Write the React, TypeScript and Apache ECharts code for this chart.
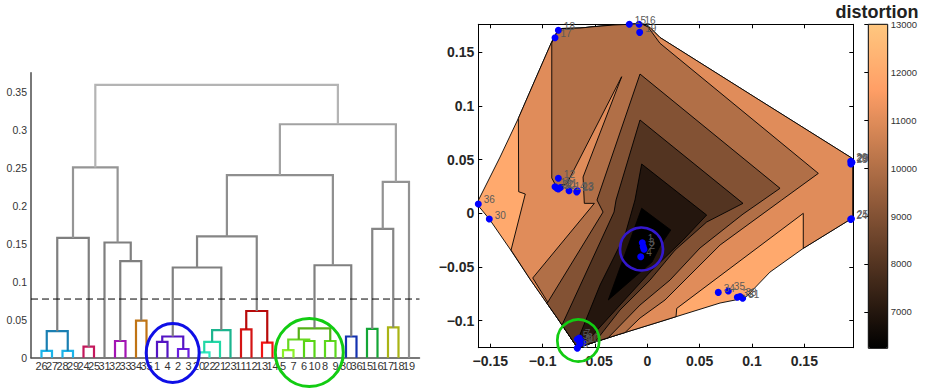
import React, { useEffect, useRef } from 'react';
import * as echarts from 'echarts';

const FONT = '"Liberation Sans", Arial, Helvetica, sans-serif';

// ---------- Dendrogram data ----------
const leafOrder = [26, 27, 28, 29, 24, 25, 31, 32, 33, 34, 35, 1, 4, 2, 3, 20, 22, 21, 23, 11, 12, 13, 14, 5, 7, 6, 10, 8, 9, 30, 36, 15, 16, 17, 18, 19];
const mergeLeft: (number | string)[] = [26, 28, 'c0', 24, 'c2', 32, 34, 'c5', 31, 'c4', 1, 2, 'c10', 20, 'c13', 'c14', 'c12', 11, 13, 'c17', 'c16', 5, 6, 'c21', 8, 'c23', 30, 'c25', 'c20', 15, 17, 'c29', 'c31', 'c28', 'c9'];
const mergeRight: (number | string)[] = [27, 29, 'c1', 25, 'c3', 33, 35, 'c6', 'c7', 'c8', 4, 3, 'c11', 22, 21, 23, 'c15', 12, 14, 'c18', 'c19', 7, 10, 'c22', 9, 'c24', 36, 'c26', 'c27', 16, 18, 'c30', 19, 'c32', 'c33'];
const mergeHeight = [0.009, 0.009, 0.035, 0.0145, 0.158, 0.022, 0.049, 0.1275, 0.152, 0.251, 0.021, 0.0115, 0.028, 0.007, 0.021, 0.0365, 0.119, 0.0374, 0.0198, 0.0616, 0.160, 0.010, 0.022, 0.024, 0.022, 0.0387, 0.028, 0.122, 0.241, 0.038, 0.040, 0.170, 0.232, 0.308, 0.36];
const mergeColor = ['#1bb4ea', '#1bb4ea', '#1a7fb2', '#c4185c', '#7f7f7f', '#a314b4', '#c07414', '#7f7f7f', '#7f7f7f', '#959595', '#5414c4', '#6a1ee0', '#5414c4', '#2ee8c0', '#22d8a6', '#1cb48e', '#808080', '#d41414', '#f21414', '#b80a0a', '#858585', '#8cf02a', '#58d414', '#68d820', '#5cd81c', '#54b016', '#1432b0', '#808080', '#8f8f8f', '#14a636', '#aab414', '#858585', '#929292', '#a2a2a2', '#b4b4b4'];
const dendroTicks = [0, 0.05, 0.1, 0.15, 0.2, 0.25, 0.3, 0.35];
const cutoff = 0.0774;

// ---------- Contour map data ----------
const contourFill = [12000, 11000, 10000, 9000, 8000, 7000, 6240];
const polyHull = [[-0.0913, 0.1598], [-0.0863, 0.1688], [-0.0815, 0.1721], [-0.0643, 0.1725], [-0.0519, 0.1737], [-0.0328, 0.1753], [-0.0175, 0.1760], [-0.0060, 0.1767], [0.0026, 0.1730], [0.0121, 0.1637], [0.1029, 0.1080], [0.1953, 0.0515], [0.1963, 0.0490], [0.1963, -0.0044], [0.1953, -0.0048], [0.1490, -0.0326], [0.1172, -0.0547], [0.0933, -0.0789], [0.0695, -0.0835], [0.0121, -0.1009], [-0.0261, -0.1124], [-0.0669, -0.1250], [-0.0834, -0.1012], [-0.1121, -0.0612], [-0.1312, -0.0332], [-0.1510, -0.0053], [-0.1613, 0.0068], [-0.1613, 0.0124], [-0.1407, 0.0524], [-0.1232, 0.0885], [-0.1073, 0.1241]];
const poly12000 = [[-0.1232, 0.0885], [-0.1073, 0.1241], [-0.0913, 0.1598], [-0.0863, 0.1688], [-0.0815, 0.1721], [-0.0643, 0.1725], [-0.0519, 0.1737], [-0.0328, 0.1753], [-0.0175, 0.1760], [-0.0060, 0.1767], [0.0026, 0.1730], [0.0121, 0.1637], [0.1029, 0.1080], [0.1953, 0.0515], [0.1963, 0.0490], [0.1963, -0.0044], [0.1953, -0.0048], [0.1490, -0.0326], [0.1490, 0.0000], [0.0281, -0.0885], [0.0274, -0.0962], [0.0121, -0.1009], [-0.0261, -0.1124], [-0.0669, -0.1250], [-0.0834, -0.1012], [-0.1121, -0.0612], [-0.1302, -0.0342], [-0.1166, 0.0180], [-0.1229, 0.0201]];
const poly11000 = [[-0.0913, 0.1586], [-0.0863, 0.1688], [-0.0815, 0.1721], [-0.0643, 0.1725], [-0.0519, 0.1737], [-0.0328, 0.1753], [-0.0175, 0.1760], [-0.0060, 0.1767], [0.0007, 0.1735], [0.0121, 0.1583], [0.1634, 0.0372], [0.1284, 0.0124], [0.0695, -0.0295], [0.0408, -0.0574], [0.0169, -0.0807], [-0.0070, -0.0975], [-0.0213, -0.1110], [-0.0261, -0.1124], [-0.0669, -0.1250], [-0.0834, -0.1012], [-0.1095, -0.0602], [-0.0506, 0.0093], [-0.0602, 0.0093], [-0.0614, 0.0338], [-0.0245, 0.1272], [-0.0770, 0.0273], [-0.0872, 0.0254], [-0.0913, 0.0329]];
const poly10000 = [[-0.0070, 0.1297], [0.1268, 0.0233], [0.0914, -0.0007], [0.0503, -0.0323], [0.0217, -0.0621], [-0.0070, -0.0854], [-0.0375, -0.1159], [-0.0669, -0.1250], [-0.0834, -0.1012], [-0.0958, -0.0839], [-0.0423, 0.0012], [-0.0481, 0.0124]];
const poly9000 = [[-0.0070, 0.0869], [0.0914, 0.0093], [0.0567, -0.0081], [0.0265, -0.0342], [0.0026, -0.0621], [-0.0261, -0.0900], [-0.0500, -0.1198], [-0.0669, -0.1250], [-0.0815, -0.1039], [-0.0318, 0.0012], [-0.0299, 0.0124]];
const poly8000 = [[-0.0054, 0.0459], [0.0567, -0.0016], [0.0341, -0.0249], [0.0026, -0.0547], [-0.0261, -0.0854], [-0.0547, -0.1161], [-0.0653, -0.1236], [-0.0672, -0.1198], [-0.0452, -0.0668], [-0.0213, -0.0202], [-0.0118, 0.0124]];
const poly7000 = [[-0.0054, 0.0047], [0.0224, -0.0155], [0.0121, -0.0304], [0.0045, -0.0453], [-0.0373, -0.0807]];
const contourPolys = [polyHull, poly12000, poly11000, poly10000, poly9000, poly8000, poly7000];

const pointId = [1, 2, 3, 4, 5, 6, 7, 8, 9, 10, 11, 12, 13, 14, 15, 16, 17, 18, 19, 20, 21, 22, 23, 24, 25, 26, 27, 28, 29, 30, 31, 32, 33, 34, 35, 36];
const pointX = [-0.0048, -0.0032, -0.0040, -0.0063, -0.0669, -0.0627, -0.0650, -0.0669, -0.0645, -0.0615, -0.0882, -0.0850, -0.0669, -0.0748, -0.0172, -0.0079, -0.0882, -0.0850, -0.0073, -0.0850, -0.0830, -0.0865, -0.0675, 0.1943, 0.1950, 0.1943, 0.1950, 0.1945, 0.1955, -0.1510, 0.0911, 0.0860, 0.0886, 0.0678, 0.0774, -0.1615];
const pointY = [-0.0274, -0.0335, -0.0310, -0.0404, -0.1173, -0.1196, -0.1160, -0.1255, -0.1215, -0.1205, 0.0248, 0.0326, 0.0210, 0.0210, 0.1760, 0.1760, 0.1635, 0.1704, 0.1685, 0.0226, 0.0240, 0.0235, 0.0200, -0.0056, -0.0050, 0.0485, 0.0470, 0.0460, 0.0475, -0.0053, -0.0791, -0.0782, -0.0775, -0.0736, -0.0723, 0.0087];

const xTicks = [-0.15, -0.1, -0.05, 0, 0.05, 0.1, 0.15];
const yTicks = [-0.1, -0.05, 0, 0.05, 0.1, 0.15];
const XMIN = -0.1615, XMAX = 0.1968, YMIN = -0.1251, YMAX = 0.176;
const cbTicks = [7000, 8000, 9000, 10000, 11000, 12000, 13000];
const CB_MIN = 6240, CB_MAX = 13000;
const copper = ['#000000', '#402819', '#805033', '#bf784c', '#ff9f66', '#ffc77f'];

const fmtSigned = (v: number) => {
  const r = +(+v).toFixed(3);
  if (r === 0) return '0';
  return (r < 0 ? '\u2212' : '') + String(Math.abs(r));
};

export default function App() {
  const ref = useRef<HTMLDivElement>(null);
  useEffect(() => {
    const chart = echarts.init(ref.current!, null, { renderer: 'svg' });
    const leafPos: Record<number, number> = {};
    leafOrder.forEach((l, i) => { leafPos[l] = i + 1; });
    const cx: number[] = [];
    const resolve = (c: number | string) =>
      typeof c === 'number' ? { x: leafPos[c], h: 0 } : { x: cx[+c.slice(1)], h: mergeHeight[+c.slice(1)] };
    const links = mergeHeight.map((h, i) => {
      const a = resolve(mergeLeft[i]);
      const b = resolve(mergeRight[i]);
      cx[i] = (a.x + b.x) / 2;
      return [a.x, a.h, b.x, b.h, h];
    });

    const axisBlack = { show: true, onZero: false, lineStyle: { color: '#000', width: 1 } };
    const option: any = {
      animation: false,
      backgroundColor: '#ffffff',
      grid: [
        { left: 31, top: 72.7, width: 388.5, height: 285, outerBoundsMode: 'none' },
        { left: 478.3, top: 24.3, width: 375, height: 323.4, outerBoundsMode: 'none' },
        { left: 868.3, top: 24.3, width: 19.4, height: 324, outerBoundsMode: 'none' },
      ],
      xAxis: [
        {
          gridIndex: 0, type: 'value', min: 0, max: 37, interval: 1,
          axisLine: { show: true, onZero: false, lineStyle: { color: '#4d4d4d', width: 1.5 } },
          axisTick: { show: false }, splitLine: { show: false },
          axisLabel: {
            formatter: (v: number) => { const k = Math.round(v); return k >= 1 && k <= 36 ? String(leafOrder[k - 1]) : ''; },
            fontSize: 11, color: '#333', margin: 3, fontFamily: FONT,
          },
        },
        {
          gridIndex: 1, type: 'value', min: XMIN, max: XMAX, position: 'bottom',
          axisLine: axisBlack, splitLine: { show: false },
          axisTick: { inside: true, length: 4, customValues: xTicks, lineStyle: { color: '#000' } },
          axisLabel: { customValues: xTicks, formatter: fmtSigned, fontSize: 14, fontWeight: 'bold', color: '#262626', margin: 6, fontFamily: FONT },
        },
        {
          gridIndex: 1, type: 'value', min: XMIN, max: XMAX, position: 'top',
          axisLine: axisBlack, splitLine: { show: false },
          axisTick: { inside: true, length: 4, customValues: xTicks, lineStyle: { color: '#000' } },
          axisLabel: { show: false },
        },
        { gridIndex: 2, type: 'value', min: 0, max: 1, show: false },
      ],
      yAxis: [
        {
          gridIndex: 0, type: 'value', min: 0, max: 0.376,
          axisLine: { show: true, onZero: false, lineStyle: { color: '#4d4d4d', width: 1.5 } },
          axisTick: { show: false }, splitLine: { show: false },
          axisLabel: { customValues: dendroTicks, formatter: (v: number) => String(+(+v).toFixed(3)), fontSize: 10.5, color: '#333', margin: 4, fontFamily: FONT },
        },
        {
          gridIndex: 1, type: 'value', min: YMIN, max: YMAX, position: 'left',
          axisLine: axisBlack, splitLine: { show: false },
          axisTick: { show: true, inside: true, length: 4, customValues: yTicks, lineStyle: { color: '#000' } },
          axisLabel: { customValues: yTicks, formatter: fmtSigned, fontSize: 14, fontWeight: 'bold', color: '#262626', margin: 4, fontFamily: FONT },
        },
        {
          gridIndex: 1, type: 'value', min: YMIN, max: YMAX, position: 'right',
          axisLine: axisBlack, splitLine: { show: false },
          axisTick: { show: true, inside: true, length: 4, customValues: yTicks, lineStyle: { color: '#000' } },
          axisLabel: { show: false },
        },
        {
          gridIndex: 2, type: 'value', min: CB_MIN, max: CB_MAX, position: 'right',
          axisLine: { show: false }, splitLine: { show: false },
          axisTick: { show: true, inside: true, length: 4, customValues: cbTicks, lineStyle: { color: '#000' } },
          axisLabel: { customValues: cbTicks, formatter: (v: number) => String(Math.round(v)), fontSize: 9.5, color: '#333', margin: 3, fontFamily: FONT },
        },
      ],
      visualMap: {
        type: 'continuous', seriesIndex: 2, dimension: 1, min: CB_MIN, max: CB_MAX,
        left: 868.3, top: 24.3, itemWidth: 19.4, itemHeight: 324, padding: 0,
        calculable: false, hoverLink: false, text: null, showLabel: false,
        inRange: { color: copper },
      },
      series: [
        {
          type: 'custom', xAxisIndex: 0, yAxisIndex: 0, data: links, encode: { x: 0, y: 4 }, silent: true, clip: false, z: 2,
          renderItem: (params: any, api: any) => {
            const d = links[params.dataIndex];
            const pts = [api.coord([d[0], d[1]]), api.coord([d[0], d[4]]), api.coord([d[2], d[4]]), api.coord([d[2], d[3]])];
            return { type: 'polyline', shape: { points: pts }, style: { stroke: mergeColor[params.dataIndex], lineWidth: 2.2, fill: 'none' } };
          },
        },
        {
          type: 'line', xAxisIndex: 0, yAxisIndex: 0, data: [[0, cutoff], [37, cutoff]], symbol: 'none', silent: true,
          lineStyle: { type: [7, 4], color: '#000', width: 1 }, z: 3,
        },
        {
          type: 'custom', xAxisIndex: 1, yAxisIndex: 1, data: contourFill.map((v, i) => [i, v]), encode: { x: 0, y: 1 }, silent: true, clip: false, z: 2,
          renderItem: (params: any, api: any) => {
            const poly = contourPolys[params.dataIndex];
            const pts = poly.map((p) => api.coord(p));
            return { type: 'polygon', shape: { points: pts }, style: { fill: api.visual('color'), stroke: '#000', lineWidth: 0.9 } };
          },
        },
        {
          type: 'scatter', xAxisIndex: 1, yAxisIndex: 1, clip: false, z: 5, silent: true,
          data: pointId.map((id, i) => [pointX[i], pointY[i], id]),
          symbolSize: 7, itemStyle: { color: '#0000ff', opacity: 1 },
          label: { show: true, position: 'right', distance: 2, offset: [0, -4], formatter: (p: any) => String(p.data[2]), fontSize: 10, color: '#5a5a5a', fontFamily: FONT },
        },
      ],
      graphic: [
        { type: 'ellipse', z: 100, shape: { cx: 172.7, cy: 353, rx: 26.5, ry: 29.5 }, style: { fill: 'none', stroke: '#0f0fe6', lineWidth: 3 } },
        { type: 'ellipse', z: 100, shape: { cx: 309.3, cy: 352.5, rx: 34, ry: 34 }, style: { fill: 'none', stroke: '#12cc12', lineWidth: 3 } },
        { type: 'circle', z: 100, shape: { cx: 641.5, cy: 249, r: 21.5 }, style: { fill: 'none', stroke: '#3418cc', lineWidth: 2.7 } },
        { type: 'circle', z: 100, shape: { cx: 578.3, cy: 340.5, r: 21 }, style: { fill: 'none', stroke: '#12cc12', lineWidth: 2.7 } },
        { type: 'rect', z: 100, shape: { x: 868.3, y: 24.3, width: 19.4, height: 324 }, style: { fill: 'none', stroke: '#000', lineWidth: 1 } },
        { type: 'text', z: 100, x: 877, y: 12, style: { text: 'distortion', align: 'center', verticalAlign: 'middle', fontSize: 18, fontWeight: 'bold', fontFamily: FONT, fill: '#222' } },
      ],
    };
    chart.setOption(option);
    return () => chart.dispose();
  }, []);
  return <div ref={ref} style={{ position: 'fixed', left: 0, top: 0, width: 925, height: 388, background: '#fff' }} />;
}
